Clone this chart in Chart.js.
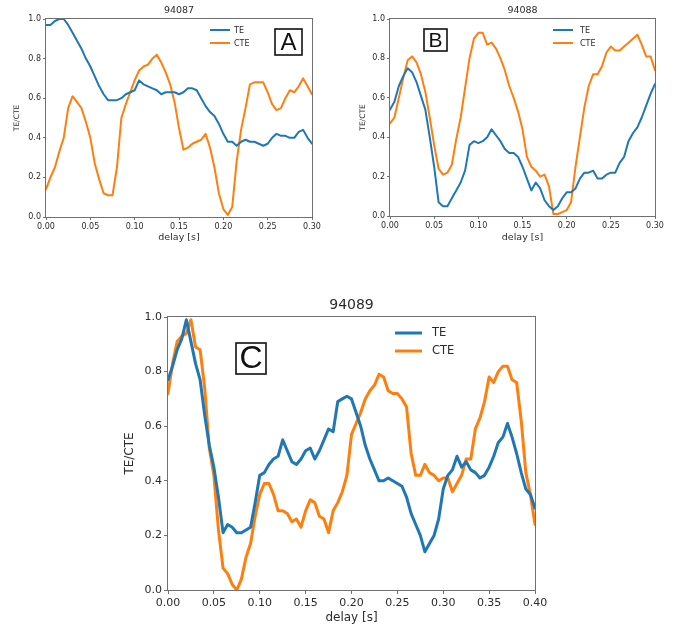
<!DOCTYPE html>
<html>
<head>
<meta charset="utf-8">
<title>TE / CTE vs delay</title>
<script src="https://cdn.jsdelivr.net/npm/chart.js@4.4.1/dist/chart.umd.min.js"></script>
<style>
  html, body { margin: 0; padding: 0; background: #fff; }
  body { width: 682px; height: 630px; position: relative; overflow: hidden; }
  canvas { position: absolute; }
  #chartA { left: 0; top: 0; }
  #chartB { left: 345px; top: 0; }
  #chartC { left: 110px; top: 290px; }
</style>
</head>
<body>
<canvas id="chartA" width="330" height="248"></canvas>
<canvas id="chartB" width="337" height="248"></canvas>
<canvas id="chartC" width="450" height="340"></canvas>
<script>
const delays = [
  0, 0.005, 0.01, 0.015, 0.02, 0.025, 0.03, 0.035, 0.04, 0.045,
  0.05, 0.055, 0.06, 0.065, 0.07, 0.075, 0.08, 0.085, 0.09, 0.095,
  0.1, 0.105, 0.11, 0.115, 0.12, 0.125, 0.13, 0.135, 0.14, 0.145,
  0.15, 0.155, 0.16, 0.165, 0.17, 0.175, 0.18, 0.185, 0.19, 0.195,
  0.2, 0.205, 0.21, 0.215, 0.22, 0.225, 0.23, 0.235, 0.24, 0.245,
  0.25, 0.255, 0.26, 0.265, 0.27, 0.275, 0.28, 0.285, 0.29, 0.295,
  0.3, 0.305, 0.31, 0.315, 0.32, 0.325, 0.33, 0.335, 0.34, 0.345,
  0.35, 0.355, 0.36, 0.365, 0.37, 0.375, 0.38, 0.385, 0.39, 0.395, 0.4
];
const delaysShort = delays.slice(0, 61); // shots 94087 / 94088 stop at 0.30 s

// shot 94087 (panel A)
const te94087 = [0.97, 0.97, 0.99, 1.00, 1.00, 0.97, 0.93, 0.89, 0.85, 0.80,
  0.76, 0.71, 0.66, 0.62, 0.59, 0.59, 0.59, 0.60, 0.62, 0.63,
  0.64, 0.69, 0.67, 0.66, 0.65, 0.64, 0.62, 0.63, 0.63, 0.63,
  0.62, 0.63, 0.65, 0.65, 0.64, 0.60, 0.56, 0.53, 0.51, 0.47,
  0.42, 0.38, 0.38, 0.36, 0.38, 0.39, 0.38, 0.38, 0.37, 0.36,
  0.37, 0.40, 0.42, 0.41, 0.41, 0.40, 0.40, 0.43, 0.44, 0.40, 0.37];
const cte94087 = [0.14, 0.20, 0.25, 0.33, 0.40, 0.55, 0.61, 0.58, 0.55, 0.48,
  0.40, 0.27, 0.19, 0.12, 0.11, 0.11, 0.25, 0.50, 0.57, 0.63,
  0.69, 0.74, 0.76, 0.77, 0.80, 0.82, 0.78, 0.73, 0.67, 0.58,
  0.45, 0.34, 0.35, 0.37, 0.38, 0.39, 0.42, 0.35, 0.25, 0.12,
  0.04, 0.01, 0.05, 0.28, 0.44, 0.55, 0.67, 0.68, 0.68, 0.68,
  0.63, 0.57, 0.54, 0.55, 0.60, 0.64, 0.63, 0.66, 0.70, 0.66, 0.62];

// shot 94088 (panel B)
const te94088 = [0.54, 0.58, 0.66, 0.71, 0.75, 0.73, 0.68, 0.61, 0.54, 0.40,
  0.25, 0.07, 0.05, 0.05, 0.09, 0.13, 0.17, 0.23, 0.36, 0.38,
  0.37, 0.38, 0.40, 0.44, 0.41, 0.38, 0.34, 0.32, 0.32, 0.30,
  0.25, 0.19, 0.13, 0.17, 0.14, 0.08, 0.05, 0.03, 0.05, 0.09,
  0.12, 0.12, 0.14, 0.19, 0.22, 0.22, 0.23, 0.19, 0.19, 0.21,
  0.22, 0.22, 0.27, 0.30, 0.38, 0.42, 0.45, 0.50, 0.56, 0.62, 0.67];
const cte94088 = [0.47, 0.50, 0.60, 0.70, 0.79, 0.81, 0.78, 0.72, 0.63, 0.50,
  0.36, 0.24, 0.21, 0.22, 0.26, 0.39, 0.50, 0.65, 0.80, 0.90,
  0.93, 0.93, 0.87, 0.88, 0.85, 0.80, 0.74, 0.66, 0.60, 0.53,
  0.44, 0.30, 0.25, 0.23, 0.20, 0.21, 0.15, 0.01, 0.01, 0.02,
  0.03, 0.07, 0.25, 0.40, 0.55, 0.66, 0.72, 0.72, 0.76, 0.83,
  0.86, 0.84, 0.84, 0.86, 0.88, 0.90, 0.92, 0.87, 0.81, 0.81, 0.74];

// shot 94089 (panel C)
const te94089 = [0.77, 0.82, 0.88, 0.92, 0.99, 0.91, 0.83, 0.77, 0.64, 0.53,
  0.45, 0.34, 0.21, 0.24, 0.23, 0.21, 0.21, 0.22, 0.23, 0.32,
  0.42, 0.43, 0.46, 0.48, 0.49, 0.55, 0.51, 0.47, 0.46, 0.48,
  0.51, 0.52, 0.48, 0.51, 0.55, 0.59, 0.58, 0.69, 0.70, 0.71,
  0.70, 0.65, 0.60, 0.53, 0.48, 0.44, 0.40, 0.40, 0.41, 0.40,
  0.39, 0.38, 0.34, 0.28, 0.24, 0.20, 0.14, 0.17, 0.20, 0.26,
  0.37, 0.42, 0.44, 0.49, 0.45, 0.47, 0.44, 0.43, 0.41, 0.42,
  0.45, 0.49, 0.54, 0.56, 0.61, 0.56, 0.50, 0.43, 0.37, 0.35, 0.30];
const cte94089 = [0.72, 0.83, 0.91, 0.93, 0.94, 0.99, 0.89, 0.88, 0.74, 0.52,
  0.42, 0.22, 0.08, 0.06, 0.02, 0.00, 0.04, 0.12, 0.17, 0.27,
  0.35, 0.39, 0.39, 0.35, 0.29, 0.29, 0.28, 0.25, 0.26, 0.23,
  0.29, 0.33, 0.32, 0.27, 0.26, 0.21, 0.29, 0.32, 0.36, 0.42,
  0.57, 0.61, 0.65, 0.70, 0.73, 0.75, 0.79, 0.78, 0.73, 0.72,
  0.72, 0.70, 0.67, 0.50, 0.42, 0.42, 0.46, 0.43, 0.42, 0.40,
  0.41, 0.41, 0.36, 0.39, 0.42, 0.48, 0.48, 0.59, 0.63, 0.69,
  0.78, 0.76, 0.80, 0.82, 0.82, 0.77, 0.76, 0.62, 0.43, 0.35, 0.24];

// tick labels
const xTicksShort = [0, 0.05, 0.10, 0.15, 0.20, 0.25, 0.30];
const xTicksLong = [0, 0.05, 0.10, 0.15, 0.20, 0.25, 0.30, 0.35, 0.40];
const yTicks = [0, 0.2, 0.4, 0.6, 0.8, 1.0];

const BLUE = '#1f77b4';
const ORANGE = '#ff7f0e';
const FRAME = '#707070';
const TEXT = '#2b2b2b';

Chart.defaults.font.family = '"DejaVu Sans", sans-serif';
Chart.defaults.color = TEXT;

const toPoints = (xs, ys) => ys.map((y, i) => ({ x: xs[i], y: y }));

// matplotlib-ish extras: full frame, title, in-axes legend, boxed panel letter
const panelDecor = {
    id: 'panelDecor',
    afterDatasetsDraw(chart, args, o) {
        const { ctx, chartArea: a } = chart;
        ctx.save();

        ctx.strokeStyle = FRAME;
        ctx.lineWidth = 1;
        ctx.strokeRect(a.left - 0.5, a.top - 0.5, a.right - a.left + 1, a.bottom - a.top + 1);

        ctx.fillStyle = TEXT;
        ctx.font = o.titleSize + 'px "DejaVu Sans"';
        ctx.textAlign = 'center';
        ctx.textBaseline = 'middle';
        ctx.fillText(o.title, (a.left + a.right) / 2, a.top - o.titleGap);

        // legend
        const lg = o.legend;
        ctx.font = lg.size + 'px "DejaVu Sans"';
        ctx.textAlign = 'left';
        chart.data.datasets.forEach((ds, i) => {
            const y = a.top + lg.top + i * lg.row;
            const x0 = a.right - lg.right;
            ctx.strokeStyle = ds.borderColor;
            ctx.lineWidth = lg.lineWidth;
            ctx.beginPath();
            ctx.moveTo(x0, y);
            ctx.lineTo(x0 + lg.len, y);
            ctx.stroke();
            ctx.fillStyle = TEXT;
            ctx.fillText(ds.label, x0 + lg.len + lg.gap, y + 0.5);
        });

        // panel letter
        const b = o.box;
        const bx = b.fromRight ? a.right - b.dx : a.left + b.dx;
        const by = a.top + b.dy;
        ctx.fillStyle = '#fff';
        ctx.fillRect(bx, by, b.w, b.h);
        ctx.strokeStyle = '#111';
        ctx.lineWidth = 1.6;
        ctx.strokeRect(bx, by, b.w, b.h);
        ctx.fillStyle = '#111';
        ctx.font = b.size + 'px "Liberation Sans"';
        ctx.textAlign = 'center';
        ctx.textBaseline = 'middle';
        ctx.fillText(b.letter, bx + b.w / 2, by + b.h / 2 + 1);

        ctx.restore();
    }
};

function makePanel(id, p) {
    return new Chart(document.getElementById(id), {
        type: 'line',
        data: {
            datasets: [
                { label: 'TE', data: toPoints(p.x, p.te), borderColor: BLUE, borderWidth: p.lineWidth },
                { label: 'CTE', data: toPoints(p.x, p.cte), borderColor: ORANGE, borderWidth: p.lineWidth }
            ]
        },
        options: {
            responsive: false,
            animation: false,
            events: [],
            layout: { padding: { left: 0, top: p.top, right: p.right, bottom: 0 } },
            elements: {
                point: { radius: 0 },
                line: { tension: 0, borderJoinStyle: 'round', borderCapStyle: 'round' }
            },
            plugins: {
                legend: { display: false },
                tooltip: { enabled: false },
                panelDecor: p.decor
            },
            scales: {
                x: {
                    type: 'linear',
                    min: 0,
                    max: p.xTicks[p.xTicks.length - 1],
                    afterBuildTicks: s => { s.ticks = p.xTicks.map(v => ({ value: v })); },
                    afterFit: s => { s.height = p.xAxisH; },
                    grid: { drawOnChartArea: false, color: FRAME, tickLength: p.tickLen },
                    border: { display: false },
                    ticks: {
                        font: { size: p.tickSize }, color: TEXT, padding: p.tickPad,
                        maxRotation: 0, autoSkip: false,
                        callback: v => v.toFixed(2)
                    },
                    title: {
                        display: true, text: 'delay [s]', color: TEXT,
                        font: { size: p.xLabelSize }, padding: { top: 0, bottom: p.xLabelPad }
                    }
                },
                y: {
                    min: 0,
                    max: 1,
                    afterBuildTicks: s => { s.ticks = yTicks.map(v => ({ value: v })); },
                    afterFit: s => { s.width = p.yAxisW; },
                    grid: { drawOnChartArea: false, color: FRAME, tickLength: p.tickLen },
                    border: { display: false },
                    ticks: {
                        font: { size: p.tickSize }, color: TEXT, padding: 2,
                        autoSkip: false,
                        callback: v => v.toFixed(1)
                    },
                    title: {
                        display: true, text: 'TE/CTE', color: TEXT,
                        font: { size: p.yLabelSize }, padding: { top: p.yLabelPad, bottom: 0 }
                    }
                }
            }
        },
        plugins: [panelDecor]
    });
}

makePanel('chartA', {
    x: delaysShort, te: te94087, cte: cte94087, xTicks: xTicksShort,
    lineWidth: 2, top: 19, right: 18, xAxisH: 31, yAxisW: 46,
    tickLen: 3, tickPad: 2, tickSize: 8, xLabelSize: 9.5, xLabelPad: 5, yLabelSize: 7.5, yLabelPad: 12.5,
    decor: {
        title: '94087', titleSize: 9.5, titleGap: 8,
        legend: { size: 8, top: 11, row: 13, right: 102, len: 20, gap: 4, lineWidth: 2 },
        box: { letter: 'A', fromRight: true, dx: 37, dy: 10, w: 27, h: 26, size: 24 }
    }
});

makePanel('chartB', {
    x: delaysShort, te: te94088, cte: cte94088, xTicks: xTicksShort,
    lineWidth: 2, top: 19, right: 27, xAxisH: 32, yAxisW: 45,
    tickLen: 3, tickPad: 2, tickSize: 8, xLabelSize: 9.5, xLabelPad: 5, yLabelSize: 7.5, yLabelPad: 13.5,
    decor: {
        title: '94088', titleSize: 9.5, titleGap: 8,
        legend: { size: 8, top: 11, row: 13, right: 102, len: 20, gap: 7, lineWidth: 2 },
        box: { letter: 'B', fromRight: false, dx: 34, dy: 10, w: 23, h: 22, size: 21 }
    }
});

makePanel('chartC', {
    x: delays, te: te94089, cte: cte94089, xTicks: xTicksLong,
    lineWidth: 3, top: 27, right: 25, xAxisH: 40, yAxisW: 58,
    tickLen: 4, tickPad: 3, tickSize: 11, xLabelSize: 12, xLabelPad: 5, yLabelSize: 12, yLabelPad: 13,
    decor: {
        title: '94089', titleSize: 14, titleGap: 12,
        legend: { size: 11.5, top: 16, row: 18, right: 140, len: 27, gap: 10, lineWidth: 3 },
        box: { letter: 'C', fromRight: false, dx: 68, dy: 26, w: 30, h: 31, size: 32 }
    }
});
</script>
</body>
</html>
